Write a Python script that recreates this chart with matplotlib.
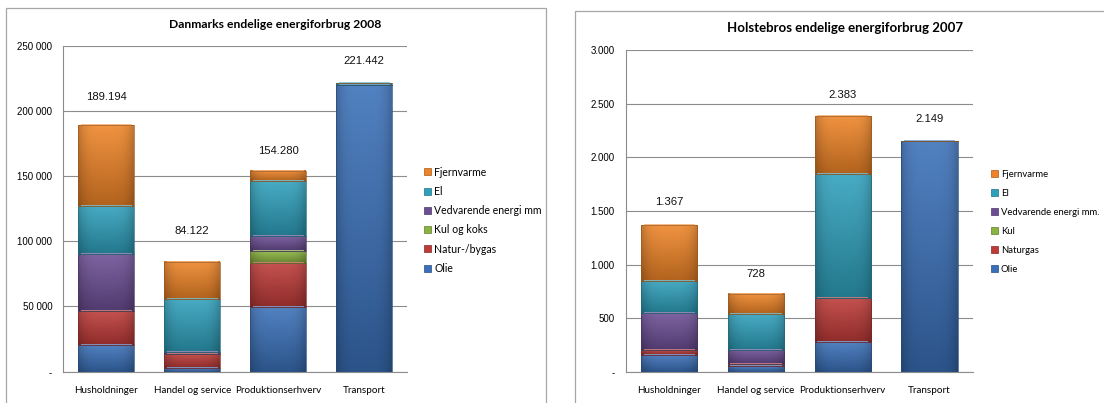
import matplotlib.pyplot as plt
import numpy as np
from matplotlib.patches import Rectangle
from matplotlib.ticker import FuncFormatter
from matplotlib.colors import to_rgb

categories = ['Husholdninger', 'Handel og service', 'Produktionserhverv', 'Transport']

# Danmark 2008, stacked bottom -> top: Olie, Natur, Kul, Vedvarende, El, Fjernvarme
dk_olie = [20500, 2800, 49800, 220100]
dk_natur = [26300, 10800, 33800, 0]
dk_kul = [0, 0, 9200, 0]
dk_ved = [43400, 1700, 11500, 0]
dk_el = [37100, 40400, 41900, 1342]
dk_fjern = [61894, 28422, 8080, 0]
dk_totals = [189194, 84122, 154280, 221442]
dk_names = ['Olie', 'Natur-/bygas', 'Kul og koks', 'Vedvarende energi mm', 'El', 'Fjernvarme']
dk_ticks = [0, 50000, 100000, 150000, 200000, 250000]

# Holstebro 2007
hb_olie = [155, 53, 280, 2149]
hb_natur = [50, 19, 411, 0]
hb_kul = [0, 0, 0, 0]
hb_ved = [345, 131, 0, 0]
hb_el = [300, 333, 1154, 0]
hb_fjern = [517, 192, 538, 0]
hb_totals = [1367, 728, 2383, 2149]
hb_names = ['Olie', 'Naturgas', 'Kul', 'Vedvarende energi mm.', 'El', 'Fjernvarme']
hb_ticks = [0, 500, 1000, 1500, 2000, 2500, 3000]

colors = ['#3A70B8', '#BE3B38', '#8AB340', '#6C4E94', '#2FA0BC', '#EE8427']

CAL = ['Lato', 'DejaVu Sans']
ARI = ['Liberation Sans', 'DejaVu Sans']
GRID = '#8C8C8C'


def mix(c, t):
    c = np.array(to_rgb(c))
    if t >= 0:
        return c + (1 - c) * t
    return c * (1 + t)


def shaded_segment(ax, patch, c):
    x0, y0 = patch.get_x(), patch.get_y()
    w, h = patch.get_width(), patch.get_height()
    if h <= 0:
        return
    top, bot = mix(c, 0.12), mix(c, -0.25)
    t = np.linspace(0, 1, 64)[:, None, None]
    grad = top * (1 - t) + bot * t
    s = np.linspace(-1, 1, 24)[None, :, None]
    grad = grad * (1 - 0.18 * np.abs(s) ** 4)
    ax.imshow(np.clip(grad, 0, 1), extent=[x0, x0 + w, y0, y0 + h],
              aspect='auto', origin='upper', interpolation='bilinear', zorder=2)
    ax.plot([x0 + 0.03, x0 + w - 0.03], [y0 + h, y0 + h], color=mix(c, 0.35),
            lw=1.2, zorder=3, solid_capstyle='butt')


def draw_chart(ax, series, names, totals, ticks, fmt, label_pad):
    x = np.arange(len(categories))
    bottom = np.zeros(len(categories))
    for vals, c in zip(series, colors):
        bars = ax.bar(x, vals, 0.65, bottom=bottom, facecolor='none',
                      edgecolor=mix(c, -0.35), lw=0.5, zorder=4)
        for p in bars:
            shaded_segment(ax, p, c)
        bottom += np.array(vals)

    for i, tot in enumerate(totals):
        ax.text(i, tot + label_pad[i], f'{tot:,}'.replace(',', '.'),
                ha='center', va='center', fontsize=8.1, family=ARI, color='#111111')

    ax.set_xlim(-0.5, len(categories) - 0.5)
    ax.set_ylim(ticks[0], ticks[-1])
    ax.set_aspect('auto')
    ax.set_yticks(ticks)
    ax.yaxis.set_major_formatter(FuncFormatter(fmt))
    ax.set_xticks(x)
    ax.set_xticklabels(categories, family=CAL, fontsize=7.1)
    for lab in ax.get_yticklabels():
        lab.set_family(ARI)
        lab.set_fontsize(7)
    ax.tick_params(axis='y', length=0, pad=8)
    ax.tick_params(axis='x', length=0, pad=10)
    ax.grid(axis='y', color=GRID, lw=0.8)
    ax.set_axisbelow(True)
    for s in ['top', 'right']:
        ax.spines[s].set_visible(False)
    for s in ['left', 'bottom']:
        ax.spines[s].set_color(GRID)
        ax.spines[s].set_linewidth(0.8)
        ax.spines[s].set_zorder(5)

    handles = [Rectangle((0, 0), 1, 1, fc=c, ec=mix(c, -0.3), lw=0.5) for c in colors]
    return handles[::-1], names[::-1]


def dk_fmt(v, pos):
    if v == 0:
        return '-'
    return f'{int(v):,}'.replace(',', ' ')


def hb_fmt(v, pos):
    if v == 0:
        return '-'
    return f'{int(v):,}'.replace(',', '.')


fig = plt.figure(figsize=(11.04, 4.03), dpi=100)

# chart frames
fig.patches.append(Rectangle((0.0052, -0.02), 0.4891, 0.9994, transform=fig.transFigure,
                             fill=False, ec='#A6A6A6', lw=0.9))
fig.patches.append(Rectangle((0.5211, -0.02), 0.5, 0.9927, transform=fig.transFigure,
                             fill=False, ec='#A6A6A6', lw=0.9))

ax1 = fig.add_axes([0.0573, 0.0777, 0.3116, 0.8089])
h1, l1 = draw_chart(ax1, [dk_olie, dk_natur, dk_kul, dk_ved, dk_el, dk_fjern],
                    dk_names, dk_totals, dk_ticks, dk_fmt,
                    [21200, 24000, 15000, 16800])
fig.text(0.2491, 0.9404, 'Danmarks endelige energiforbrug 2008', ha='center', va='center',
         fontsize=8.7, fontweight='bold', family=CAL)
fig.legend(h1, l1, loc='upper left', bbox_to_anchor=(0.3845, 0.5866), frameon=False,
           prop={'family': CAL, 'size': 7.6}, handlelength=0.64, handleheight=0.64,
           handletextpad=0.3, labelspacing=0.78, borderpad=0, borderaxespad=0)

ax2 = fig.add_axes([0.5670, 0.0777, 0.3141, 0.7975])
h2, l2 = draw_chart(ax2, [hb_olie, hb_natur, hb_kul, hb_ved, hb_el, hb_fjern],
                    hb_names, hb_totals, hb_ticks, hb_fmt,
                    [220, 181, 200, 210])
fig.text(0.7654, 0.9298, 'Holstebros endelige energiforbrug 2007', ha='center', va='center',
         fontsize=9.5, fontweight='bold', family=CAL)
fig.legend(h2, l2, loc='upper left', bbox_to_anchor=(0.8979, 0.5782), frameon=False,
           prop={'family': CAL, 'size': 6.8}, handlelength=0.72, handleheight=0.72,
           handletextpad=0.3, labelspacing=1.06, borderpad=0, borderaxespad=0)

fig.savefig('out.png', dpi=100)
